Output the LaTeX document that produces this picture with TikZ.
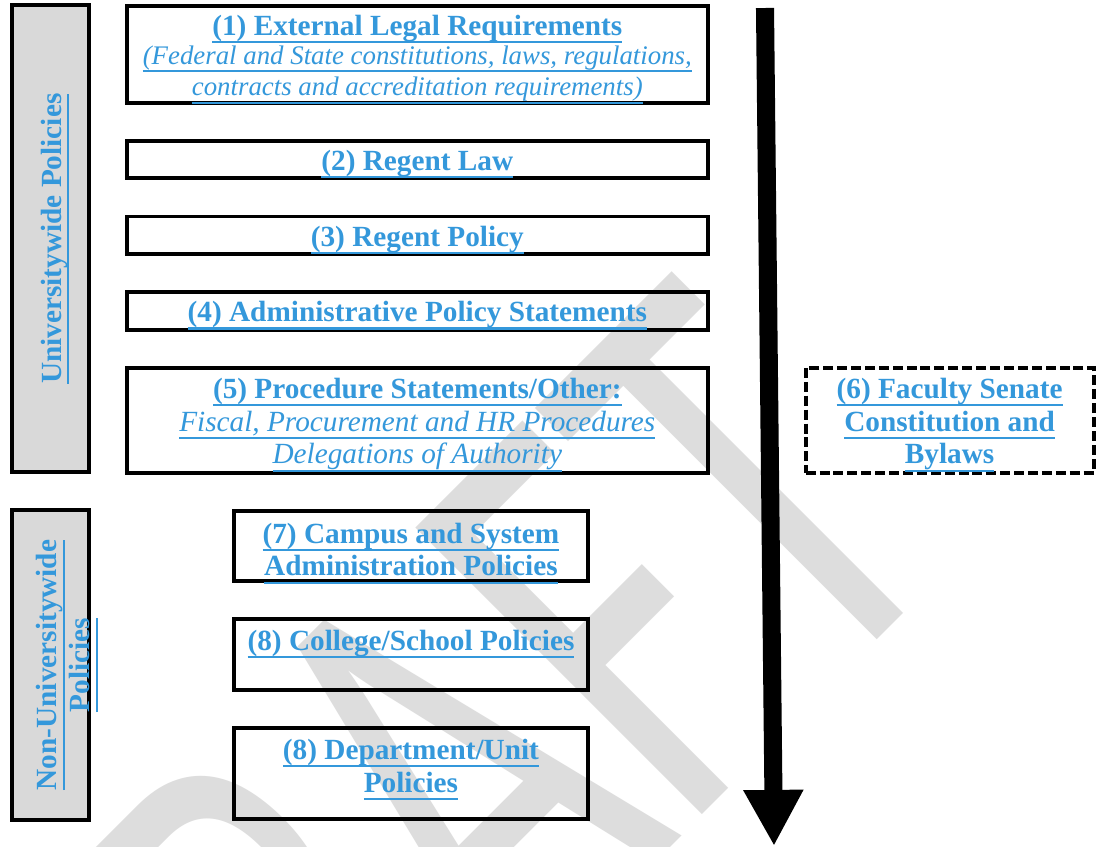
\documentclass[tikz,border=0pt]{standalone}
\usepackage{fontspec}
\setmainfont{Liberation Serif}
\newfontfamily\wmfont{Carlito}
\usetikzlibrary{arrows.meta,positioning}
\definecolor{linkblue}{HTML}{3498DB}
\definecolor{panelgray}{HTML}{D9D9D9}
\definecolor{wmgray}{HTML}{DDDDDD}
\newsavebox\lnkbox
\newcommand\lnk[1]{\sbox\lnkbox{#1}\raisebox{-1.6pt}[\ht\lnkbox][\dp\lnkbox]{\rlap{\usebox\lnkbox}\rule[-3.2pt]{\wd\lnkbox}{0.85pt}}}

\begin{document}
\begin{tikzpicture}[x=0.41pt, y=-0.41pt,
  every node/.style={align=center, inner sep=0pt, text=linkblue, font=\fontsize{12}{13.5}\selectfont\bfseries},
  tier/.style={draw, line width=1.6pt, minimum width=238.4pt, minimum height=15.4pt},
  local/.style={draw, line width=1.6pt, minimum width=145.3pt, minimum height=28.7pt},
  panel/.style={draw, line width=1.6pt, fill=panelgray, rotate=90, minimum height=31.6pt},
  senate/.style={draw, line width=1.6pt, dash pattern=on 4.1pt off 1.6pt, minimum width=118.1pt, minimum height=43pt}]
\useasboundingbox[fill=white] (0,0) rectangle (1100,846);
% watermark
\node[rotate=45, xscale=0.66, anchor=base east, text=wmgray, font=\wmfont\fontsize{259}{259}\selectfont] (draft) at (962,555) {DRAFT};

\node[panel, minimum width=191.3pt] (uni) at (50.5,238.7) {\lnk{Universitywide Policies}};
\node[panel, minimum width=127.1pt] (nonuni) at (50.5,665) {};
\node[rotate=90] (nonunitext) at ([xshift=3.7pt]nonuni.center) {\lnk{Non-Universitywide}\\\lnk{Policies}};

\node[tier, minimum height=39.6pt, font=\fontsize{11}{13}\selectfont\itshape] (legal) at (417.3,54.5) {{\fontsize{12}{13}\selectfont\bfseries\upshape\lnk{(1) External Legal Requirements}}\\[-1.2pt]\lnk{(Federal and State constitutions, laws, regulations,}\\\lnk{contracts and accreditation requirements)}};
\node[tier] (law) [below=14pt of legal] {\lnk{(2) Regent Law}};
\node[tier] (policy) [below=14pt of law] {\lnk{(3) Regent Policy}};
\node[tier] (admin) [below=14pt of policy] {\lnk{(4) Administrative Policy Statements}};
\node[tier, minimum height=43pt] (proc) [below=14pt of admin] {\lnk{(5) Procedure Statements/Other:}\\{\mdseries\itshape\lnk{Fiscal, Procurement and HR Procedures}}\\{\mdseries\itshape\lnk{Delegations of Authority}}};
\node[senate] (senate) [right=38.4pt of proc] {\lnk{(6) Faculty Senate}\\\lnk{Constitution and}\\\lnk{Bylaws}};
\node[local] (campus) [below=14pt of proc, xshift=-2.6pt] {\lnk{(7) Campus and System}\\\lnk{Administration Policies}};
\node[local, minimum height=29.3pt] (college) [below=14pt of campus] {\lnk{(8) College/School Policies}\\[1.2pt]~};
\node[local, minimum height=37.1pt] (dept) [below=14pt of college] {\lnk{(8) Department/Unit}\\\lnk{Policies}\\[-4.1pt]\mbox{}};

% order of precedence
\coordinate (top) at (765,8);
\coordinate (tip) at (774,846);
\draw[line width=7.4pt, -{Triangle[length=23pt, width=23pt]}] (top) -- (tip);
\end{tikzpicture}
\end{document}
